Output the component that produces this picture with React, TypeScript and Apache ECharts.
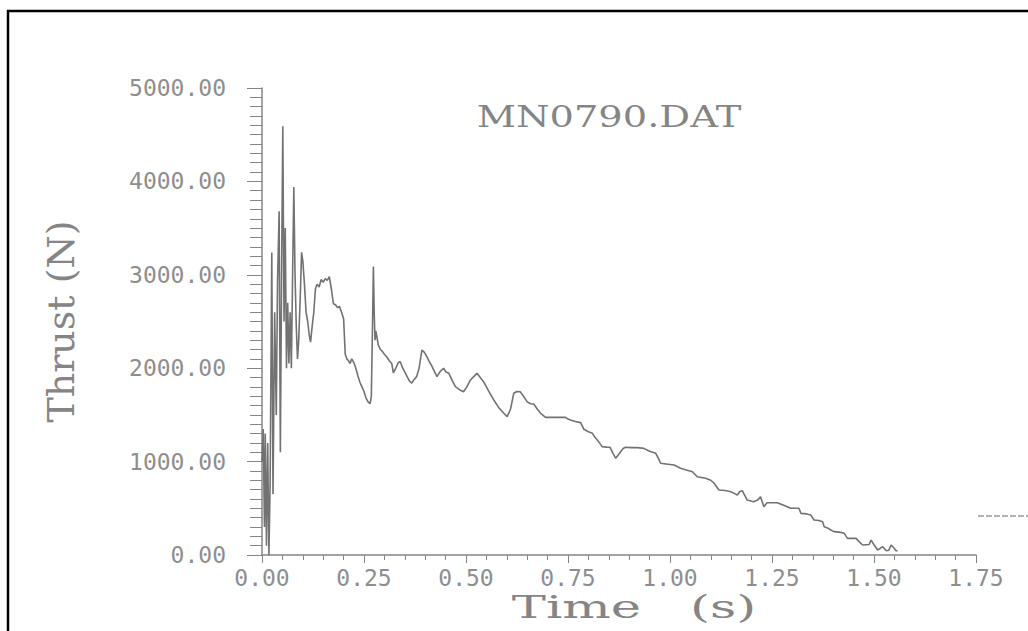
import React, { useEffect, useRef } from "react";
import * as echarts from "echarts";

const TITLE = "MN0790.DAT";
const X_NAME = "Time   (s)";
const Y_NAME = "Thrust (N)";
const X_TICKS = [0, 0.25, 0.5, 0.75, 1.0, 1.25, 1.5, 1.75];
const Y_TICKS = [0, 1000, 2000, 3000, 4000, 5000];

const timeS = [
  0.000, 0.003, 0.006, 0.008, 0.011, 0.014, 0.017, 0.020, 0.024, 0.027,
  0.031, 0.035, 0.038, 0.042, 0.045, 0.048, 0.051, 0.054, 0.057, 0.060,
  0.063, 0.066, 0.069, 0.072, 0.075, 0.078, 0.081, 0.084, 0.087, 0.090,
  0.094, 0.097, 0.100, 0.104, 0.108, 0.112, 0.116, 0.119, 0.123, 0.127,
  0.131, 0.135, 0.140, 0.145, 0.150, 0.155, 0.160, 0.165, 0.170, 0.175,
  0.180, 0.185, 0.190, 0.195, 0.200, 0.204, 0.208, 0.212, 0.216, 0.220,
  0.225, 0.230, 0.235, 0.240, 0.245, 0.250, 0.255, 0.260, 0.265, 0.268,
  0.271, 0.273, 0.275, 0.277, 0.279, 0.281, 0.285, 0.290, 0.295, 0.300,
  0.306, 0.312, 0.318, 0.322, 0.328, 0.334, 0.339, 0.345, 0.351, 0.357,
  0.362, 0.367, 0.373, 0.379, 0.385, 0.392, 0.398, 0.404, 0.410, 0.417,
  0.423, 0.429, 0.436, 0.445, 0.451, 0.458, 0.466, 0.474, 0.484, 0.494,
  0.502, 0.511, 0.519, 0.527, 0.535, 0.543, 0.555, 0.568, 0.580, 0.592,
  0.601, 0.609, 0.617, 0.625, 0.633, 0.641, 0.650, 0.658, 0.666, 0.675,
  0.683, 0.695, 0.720, 0.744, 0.750, 0.756, 0.768, 0.781, 0.789, 0.800,
  0.810, 0.816, 0.822, 0.828, 0.834, 0.845, 0.853, 0.860, 0.867, 0.873,
  0.879, 0.885, 0.891, 0.905, 0.920, 0.936, 0.950, 0.965, 0.971, 0.977,
  0.990, 1.010, 1.026, 1.040, 1.055, 1.067, 1.087, 1.100, 1.108, 1.120,
  1.135, 1.149, 1.157, 1.165, 1.171, 1.177, 1.189, 1.205, 1.215, 1.222,
  1.230, 1.238, 1.250, 1.263, 1.280, 1.296, 1.316, 1.321, 1.335, 1.345,
  1.353, 1.365, 1.374, 1.378, 1.386, 1.394, 1.402, 1.415, 1.427, 1.435,
  1.446, 1.456, 1.464, 1.472, 1.480, 1.488, 1.493, 1.500, 1.509, 1.515,
  1.521, 1.530, 1.536, 1.542, 1.548, 1.554, 1.558,
];

const thrustN = [
  1000, 1350, 300, 1300, 100, 1200, 0, 800, 3240, 650,
  2600, 1500, 2900, 3680, 1100, 3000, 4590, 2500, 3500, 2000,
  2700, 2050, 2600, 2000, 3000, 3940, 3000, 2450, 2100, 2300,
  2800, 3240, 3150, 2900, 2600, 2500, 2350, 2280, 2450, 2600,
  2850, 2900, 2870, 2950, 2920, 2960, 2940, 2980, 2850, 2690,
  2680, 2650, 2660, 2600, 2530, 2150, 2100, 2080, 2050, 2100,
  2060, 2000, 1920, 1850, 1800, 1750, 1680, 1640, 1620, 1700,
  2500, 3090, 2600, 2300, 2400, 2350, 2250, 2200, 2180, 2150,
  2120, 2080, 2050, 1950, 2000, 2060, 2070, 2000, 1950, 1900,
  1860, 1840, 1880, 1910, 2000, 2195, 2170, 2123, 2070, 2016,
  1960, 1909, 1960, 1999, 1960, 1945, 1870, 1802, 1770, 1748,
  1800, 1874, 1910, 1945, 1900, 1856, 1760, 1660, 1580, 1520,
  1481, 1560, 1731, 1750, 1748, 1700, 1640, 1620, 1617, 1560,
  1517, 1474, 1474, 1474, 1455, 1445, 1430, 1417, 1346, 1320,
  1303, 1260, 1231, 1195, 1160, 1155, 1153, 1090, 1035, 1070,
  1106, 1140, 1153, 1150, 1150, 1142, 1110, 1089, 1040, 982,
  975, 964, 928, 910, 892, 838, 821, 800, 768, 696,
  690, 678, 660, 642, 680, 689, 589, 571, 590, 624,
  517, 560, 560, 560, 530, 500, 500, 446, 440, 428,
  375, 370, 357, 303, 290, 268, 250, 245, 232, 178,
  180, 178, 140, 107, 110, 112, 160, 110, 54, 70,
  89, 46, 50, 107, 80, 46, 46,
];

const GRAY = "#858585";
const LABEL_GRAY = "#8e8e8e";

export default function App() {
  const ref = useRef<HTMLDivElement>(null);

  useEffect(() => {
    if (!ref.current) return;
    const chart = echarts.init(ref.current, null, { renderer: "svg" });
    const data = timeS.map((t, i) => [t, thrustN[i]]);
    chart.setOption({
      animation: false,
      backgroundColor: "#ffffff",
      grid: { left: 262, right: 52, top: 88, bottom: 76 },
      xAxis: {
        type: "value",
        min: X_TICKS[0],
        max: X_TICKS[X_TICKS.length - 1],
        interval: 0.25,
        axisLine: { show: true, lineStyle: { color: GRAY, width: 1.5 } },
        axisTick: { show: true, inside: false, length: 8, lineStyle: { color: GRAY } },
        minorTick: { show: true, splitNumber: 5, length: 5, lineStyle: { color: GRAY } },
        axisLabel: {
          margin: 11,
          fontFamily: "DejaVu Sans Mono",
          fontSize: 23,
          color: LABEL_GRAY,
          formatter: (v: number) => v.toFixed(2),
        },
        splitLine: { show: false },
      },
      yAxis: {
        type: "value",
        min: Y_TICKS[0],
        max: Y_TICKS[Y_TICKS.length - 1],
        interval: 1000,
        name: Y_NAME,
        nameLocation: "middle",
        nameGap: 182,
        nameTextStyle: { fontFamily: "DejaVu Serif", fontSize: 38, color: GRAY },
        axisLine: { show: true, lineStyle: { color: GRAY, width: 1.5 } },
        axisTick: { show: true, inside: false, length: 15, lineStyle: { color: GRAY } },
        minorTick: { show: true, splitNumber: 10, length: 12, lineStyle: { color: GRAY } },
        axisLabel: {
          margin: 36,
          fontFamily: "DejaVu Sans Mono",
          fontSize: 23,
          color: LABEL_GRAY,
          formatter: (v: number) => v.toFixed(2),
        },
        splitLine: { show: false },
      },
      series: [
        {
          type: "line",
          data,
          showSymbol: false,
          lineStyle: { color: "#727272", width: 1.6 },
        },
      ],
      graphic: [
        {
          type: "line",
          shape: { x1: 7, y1: 11, x2: 1028, y2: 11 },
          style: { stroke: "#000", lineWidth: 2.5 },
        },
        {
          type: "line",
          shape: { x1: 8, y1: 10, x2: 8, y2: 631 },
          style: { stroke: "#000", lineWidth: 2.5 },
        },
        {
          type: "line",
          shape: { x1: 978, y1: 516, x2: 1028, y2: 516 },
          style: { stroke: "#9a9a9a", lineWidth: 1.5, lineDash: [6, 2] },
        },
        {
          type: "text",
          x: 609,
          y: 117,
          scaleX: 1.28,
          style: {
            text: TITLE,
            x: 0,
            y: 0,
            fill: GRAY,
            font: "normal 30px 'DejaVu Serif'",
            align: "center",
            verticalAlign: "middle",
          },
        },
        {
          type: "text",
          x: 634,
          y: 607,
          scaleX: 1.6,
          style: {
            text: X_NAME,
            x: 0,
            y: 0,
            fill: GRAY,
            font: "normal 32px 'DejaVu Serif'",
            align: "center",
            verticalAlign: "middle",
          },
        },
      ],
    });
    return () => chart.dispose();
  }, []);

  return (
    <div
      ref={ref}
      style={{ position: "fixed", left: 0, top: 0, width: 1028, height: 631 }}
    />
  );
}
